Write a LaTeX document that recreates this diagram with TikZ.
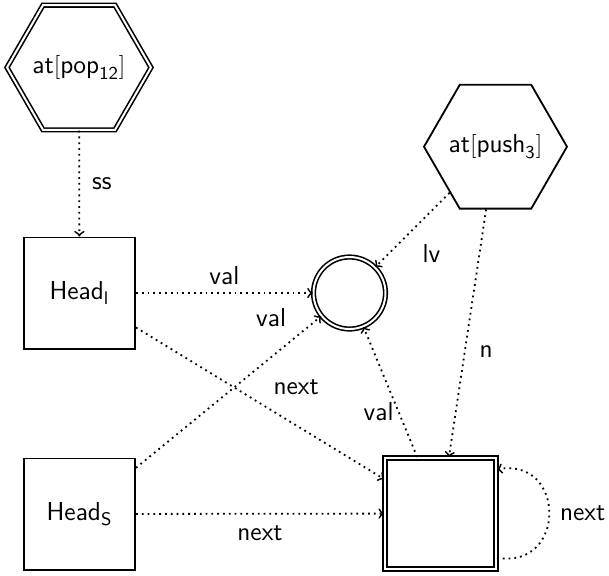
\documentclass[tikz,border=0pt]{standalone}
\usepackage{fontspec}
\usetikzlibrary{shapes.geometric}
\begin{document}
\begin{tikzpicture}[x=0.5pt,y=-0.5pt,
  font=\fontsize{13}{15.6}\selectfont\sffamily,
  box/.style={draw, line width=0.9pt, minimum size=55.6pt, inner sep=0pt},
  hexa/.style={draw, regular polygon, regular polygon sides=6, inner sep=0pt, line width=0.9pt},
  dbl/.style={double, double distance=1pt, line width=0.8pt},
  conn/.style={->, line width=0.9pt, dotted},
  lbl/.style={inner sep=2pt}]
\useasboundingbox (0,0) rectangle (609,575);
% nodes
\node[hexa, dbl, minimum size=72pt] (pop) at (79,67.5) {\makebox[0pt]{$\mathsf{at}[\mathsf{pop}_{\mathsf{12}}]$}};
\node[hexa, minimum size=71.5pt] (push) at (495.5,146.7) {\makebox[0pt]{$\mathsf{at}[\mathsf{push}_{\mathsf{3}}]$}};
\node[box] (hl) at (79.5,293) {$\mathsf{Head}_{\mathsf{l}}$};
\node[box] (hs) at (79.5,514) {$\mathsf{Head}_{\mathsf{S}}$};
\node[circle, draw, dbl, minimum size=36pt, inner sep=0pt] (c) at (349.5,293) {};
\node[box, dbl, line width=0.9pt, double distance=1.1pt] (sq) at (440.5,513.5) {};
% connectors
\draw[conn] (pop) -- node[lbl, right=4pt] {ss} (hl);
\draw[conn] (hl) -- node[lbl, above=1.5pt] {val} (c);
\draw[conn] (hs) -- node[lbl, pos=0.73, yshift=20pt] {val} (c);
\draw[conn] (hl) -- node[lbl, pos=0.646, yshift=19.3pt] {next} (sq);
\draw[conn] (hs) -- node[lbl, below=3.5pt] {next} (sq);
\draw[conn] (push) -- node[lbl, pos=0.5, xshift=9.5pt, yshift=-12pt] {lv} (c);
\draw[conn] (push) -- node[lbl, pos=0.575, right=5pt] {n} (sq);
\draw[conn] (sq) -- node[lbl, pos=0.35, left] {val} (c);
\draw[conn] (sq.-38) to[out=-10, in=10, looseness=2.05] node[lbl, right=3pt] {next} (sq.38);
\end{tikzpicture}
\end{document}
